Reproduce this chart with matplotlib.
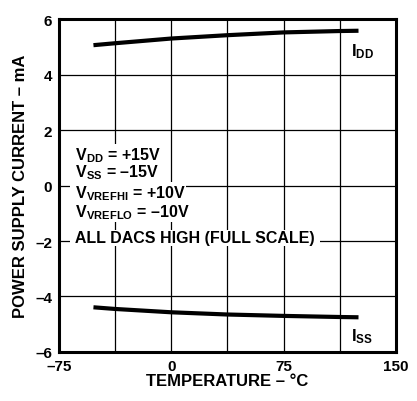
import matplotlib
matplotlib.use("Agg")
import matplotlib.pyplot as plt

plt.rcParams['font.family'] = ['Liberation Sans', 'DejaVu Sans']
plt.rcParams['font.weight'] = 'bold'
plt.rcParams['mathtext.fontset'] = 'custom'
plt.rcParams['mathtext.default'] = 'bf'
plt.rcParams['mathtext.rm'] = 'Liberation Sans:bold'
plt.rcParams['mathtext.it'] = 'Liberation Sans:bold'
plt.rcParams['mathtext.bf'] = 'Liberation Sans:bold'

# данные
temp = [-52, -37.5, 0, 37.5, 75, 112.5, 125]
i_dd = [5.06, 5.13, 5.30, 5.42, 5.52, 5.57, 5.58]
i_ss = [-4.39, -4.45, -4.57, -4.65, -4.70, -4.74, -4.75]

x_ticks = [-75, 0, 75, 150]
x_grid = [-37.5, 37.5, 112.5]
y_ticks = [-6, -4, -2, 0, 2, 4, 6]

conditions = [
    r"$V_{DD}$ = +15V",
    r"$V_{SS}$ = –15V",
    r"$V_{VREFHI}$ = +10V",
    r"$V_{VREFLO}$ = –10V",
    "ALL DACS HIGH (FULL SCALE)",
]
cond_y = [1.12, 0.50, -0.25, -0.95, -1.88]

fig = plt.figure(figsize=(4.17, 4.02), dpi=100)
ax = fig.add_axes([0.1415, 0.122, 0.808, 0.828])

ax.set_xlim(-75, 150)
ax.set_ylim(-6, 6)
ax.set_xticks(x_ticks)
ax.set_xticks(x_grid, minor=True)
ax.set_yticks(y_ticks)
ax.set_xticklabels(["–75", "0", "75", "150"])
ax.set_yticklabels(["–6", "–4", "–2", "0", "2", "4", "6"])
ax.tick_params(which="both", length=0, labelsize=11, pad=5)
ax.grid(True, which="both", color="black", linewidth=0.9)

for s in ax.spines.values():
    s.set_linewidth(2.2)

ax.plot(temp, i_dd, color="black", linewidth=3.0, solid_capstyle="butt")
ax.plot(temp, i_ss, color="black", linewidth=3.0, solid_capstyle="butt")

ax.text(120, 4.85, r"$I_{DD}$", fontsize=12, va="center", ha="left")
ax.text(120, -5.4, r"$I_{SS}$", fontsize=12, va="center", ha="left")

# каждая строка на своей белой подложке, верхние строки поверх нижних
for k, (txt, yy) in enumerate(zip(conditions, cond_y)):
    ax.text(-67, yy, " " + txt + " ", fontsize=11.5, va="center", ha="left",
            zorder=10 - k,
            bbox=dict(facecolor="white", edgecolor="none", pad=0.5))

ax.set_xlabel("TEMPERATURE – °C", fontsize=12, fontweight="bold", labelpad=0)
ax.set_ylabel("POWER SUPPLY CURRENT – mA", fontsize=12, fontweight="bold", labelpad=5)

fig.savefig("out.png", dpi=100)
